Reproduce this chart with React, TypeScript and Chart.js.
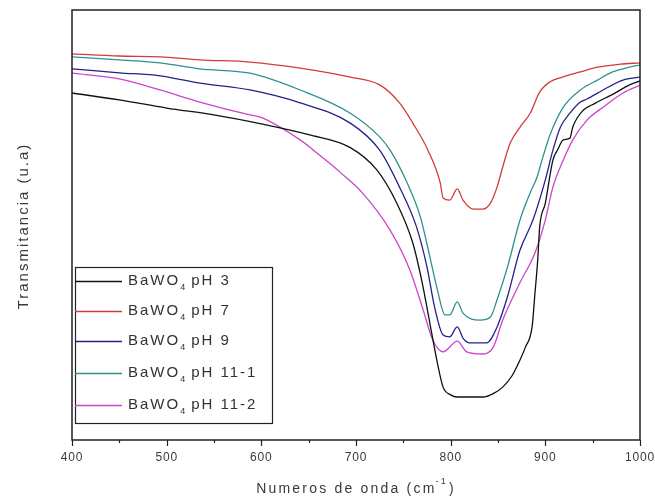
import React, { useEffect, useRef } from "react";
import { Chart, registerables } from "chart.js";

Chart.register(...registerables);

const seriesNames = ["pH 3", "pH 7", "pH 9", "pH 11-1", "pH 11-2"];
const seriesColors = ["#111111", "#d43a3a", "#22228a", "#2f9090", "#cc44cc"];

const ph3X = [400, 450, 500, 550, 600, 650, 694, 722, 743, 760, 770, 778, 786, 792, 800, 807, 820, 834, 845, 855, 865, 873, 879, 886, 889, 892, 894, 900, 908, 913, 919, 926, 929, 940, 949, 955, 972, 989, 1000];
const ph3Y = [80.7, 79.1, 77.2, 75.6, 73.5, 71.0, 68.0, 62.8, 55.1, 45.8, 36.5, 27.2, 17.9, 12.3, 10.5, 10.0, 10.0, 10.0, 10.8, 12.3, 15.0, 18.5, 21.6, 26.3, 34.0, 42.0, 49.5, 55.1, 65.1, 67.5, 69.8, 70.2, 72.8, 76.7, 77.9, 78.6, 80.5, 82.6, 83.5];

const ph7X = [400, 450, 493, 535, 588, 641, 694, 725, 746, 760, 776, 789, 792, 799, 807, 813, 824, 834, 842, 849, 855, 863, 874, 884, 894, 905, 918, 937, 955, 979, 1000];
const ph7Y = [89.8, 89.3, 89.1, 88.4, 87.9, 86.5, 84.4, 82.6, 78.4, 73.7, 67.4, 59.8, 56.3, 55.8, 58.4, 55.8, 53.7, 53.7, 55.1, 58.8, 63.5, 69.1, 73.0, 76.0, 80.9, 83.3, 84.4, 85.6, 86.7, 87.4, 87.7];

const ph9X = [400, 450, 493, 535, 588, 641, 694, 725, 746, 764, 775, 783, 792, 799, 807, 813, 820, 838, 849, 860, 873, 887, 900, 908, 916, 926, 937, 944, 961, 982, 1000];
const ph9Y = [86.3, 85.4, 84.7, 83.0, 81.4, 78.4, 73.7, 67.4, 58.8, 49.5, 40.2, 30.9, 24.4, 24.0, 26.3, 23.7, 22.6, 22.6, 26.3, 33.3, 44.0, 51.2, 60.5, 67.4, 72.8, 76.0, 78.6, 79.3, 81.4, 83.7, 84.4];

const ph11aX = [400, 450, 493, 535, 588, 641, 694, 725, 736, 754, 768, 778, 786, 794, 799, 807, 813, 831, 842, 849, 860, 873, 884, 891, 897, 905, 919, 937, 955, 971, 989, 1000];
const ph11aY = [89.1, 88.4, 87.7, 86.3, 85.3, 81.4, 76.0, 70.5, 67.4, 59.8, 51.9, 42.6, 34.9, 29.1, 29.1, 32.1, 29.5, 27.9, 28.6, 32.6, 40.2, 51.0, 57.5, 61.0, 65.5, 71.0, 77.4, 81.4, 83.7, 85.6, 86.7, 87.2];

const ph11bX = [400, 450, 493, 535, 588, 599, 641, 655, 672, 683, 707, 736, 757, 771, 781, 792, 807, 817, 834, 845, 855, 873, 889, 900, 908, 919, 929, 944, 961, 982, 1000];
const ph11bY = [85.3, 84.0, 81.4, 78.6, 75.6, 75.1, 69.8, 67.4, 64.4, 62.3, 57.4, 48.8, 39.5, 30.2, 23.3, 20.5, 23.0, 20.5, 20.0, 21.6, 27.9, 36.5, 43.5, 51.2, 58.8, 65.1, 69.8, 74.4, 77.4, 80.7, 82.5];

const seriesX = [ph3X, ph7X, ph9X, ph11aX, ph11bX];
const seriesY = [ph3Y, ph7Y, ph9Y, ph11aY, ph11bY];

const xMajorTicks = [400, 500, 600, 700, 800, 900, 1000];
const xMinorTicks = [450, 550, 650, 750, 850, 950];

const xTitle = "Numeros de onda (cm";
const yTitle = "Transmitancia (u.a)";

const FONT = '"Liberation Sans", Arial, sans-serif';

function setSpacing(ctx: any, v: string) {
  if ("letterSpacing" in ctx) ctx.letterSpacing = v;
}

const decorPlugin = {
  id: "decor",
  afterDraw(chart: any) {
    const ctx = chart.ctx as any;
    const area = chart.chartArea;
    const xs = chart.scales.x;
    ctx.save();
    // frame
    ctx.strokeStyle = "#222";
    ctx.lineWidth = 1.5;
    ctx.strokeRect(area.left, area.top, area.right - area.left, area.bottom - area.top);
    // ticks
    ctx.lineWidth = 1.2;
    ctx.beginPath();
    for (const v of xMajorTicks) {
      const px = Math.round(xs.getPixelForValue(v)) + 0.5;
      ctx.moveTo(px, area.bottom);
      ctx.lineTo(px, area.bottom + 6);
    }
    for (const v of xMinorTicks) {
      const px = Math.round(xs.getPixelForValue(v)) + 0.5;
      ctx.moveTo(px, area.bottom);
      ctx.lineTo(px, area.bottom + 3);
    }
    ctx.stroke();
    // tick labels
    ctx.fillStyle = "#3a3a3a";
    ctx.font = `12px ${FONT}`;
    setSpacing(ctx, "0.8px");
    ctx.textAlign = "center";
    ctx.textBaseline = "middle";
    for (const v of xMajorTicks) {
      ctx.fillText(String(v), xs.getPixelForValue(v), 458);
    }
    // x title
    setSpacing(ctx, "2.2px");
    ctx.font = `14px ${FONT}`;
    const cx = (area.left + area.right) / 2;
    const tw = ctx.measureText(xTitle).width;
    const pw = ctx.measureText(")").width;
    ctx.font = `9px ${FONT}`;
    const sw = ctx.measureText("-1").width;
    const total = tw + sw + pw;
    let sx = cx - total / 2;
    ctx.textAlign = "left";
    ctx.font = `14px ${FONT}`;
    ctx.fillText(xTitle, sx, 489);
    sx += tw;
    ctx.font = `9px ${FONT}`;
    ctx.fillText("-1", sx - 1, 482);
    sx += sw;
    ctx.font = `14px ${FONT}`;
    ctx.fillText(")", sx, 489);
    // y title
    ctx.save();
    ctx.translate(24, 226);
    ctx.rotate(-Math.PI / 2);
    ctx.textAlign = "center";
    ctx.font = `15px ${FONT}`;
    setSpacing(ctx, "2px");
    ctx.fillText(yTitle, 0, 0);
    ctx.restore();
    // legend
    const lx = 75, ly = 267, lw = 197, lh = 156;
    ctx.fillStyle = "#ffffff";
    ctx.fillRect(lx, ly, lw, lh);
    ctx.strokeStyle = "#222";
    ctx.lineWidth = 1.2;
    ctx.strokeRect(lx + 0.5, ly + 0.5, lw, lh);
    const rows = [281, 311, 341, 373, 405];
    for (let i = 0; i < seriesNames.length; i++) {
      const y = rows[i];
      ctx.strokeStyle = seriesColors[i];
      ctx.lineWidth = 1.3;
      ctx.beginPath();
      ctx.moveTo(lx, y + 0.5);
      ctx.lineTo(122, y + 0.5);
      ctx.stroke();
      ctx.fillStyle = "#333";
      ctx.textAlign = "left";
      ctx.textBaseline = "middle";
      setSpacing(ctx, "2px");
      ctx.font = `15px ${FONT}`;
      let tx = 128;
      ctx.fillText("BaWO", tx, y);
      tx += ctx.measureText("BaWO").width;
      ctx.font = `9px ${FONT}`;
      ctx.fillText("4", tx, y + 7);
      tx += ctx.measureText("4").width + 4;
      ctx.font = `15px ${FONT}`;
      ctx.fillText(seriesNames[i], tx, y);
    }
    setSpacing(ctx, "0px");
    ctx.restore();
  },
};

export default function App() {
  const ref = useRef<HTMLCanvasElement | null>(null);
  useEffect(() => {
    document.body.style.margin = "0";
    if (!ref.current) return;
    const datasets = seriesNames.map((n, i) => ({
      label: "BaWO4 " + n,
      data: seriesX[i].map((x, j) => ({ x, y: seriesY[i][j] })),
      borderColor: seriesColors[i],
      borderWidth: 1.3,
      pointRadius: 0,
      fill: false,
      cubicInterpolationMode: "monotone" as const,
    }));
    const chart = new Chart(ref.current, {
      type: "line",
      data: { datasets },
      plugins: [decorPlugin],
      options: {
        animation: false,
        responsive: false,
        maintainAspectRatio: false,
        layout: { padding: { left: 0, right: 15, top: 10, bottom: 0 } },
        plugins: { legend: { display: false }, tooltip: { enabled: false } },
        scales: {
          x: {
            type: "linear",
            min: 400,
            max: 1000,
            grid: { display: false },
            border: { display: false },
            ticks: { display: false },
            afterFit: (s: any) => { s.height = 62; },
          },
          y: {
            type: "linear",
            min: 0,
            max: 100,
            grid: { display: false },
            border: { display: false },
            ticks: { display: false },
            afterFit: (s: any) => { s.width = 72; },
          },
        },
      },
    });
    return () => chart.destroy();
  }, []);
  return <canvas ref={ref} width={655} height={502} style={{ display: "block" }} />;
}
